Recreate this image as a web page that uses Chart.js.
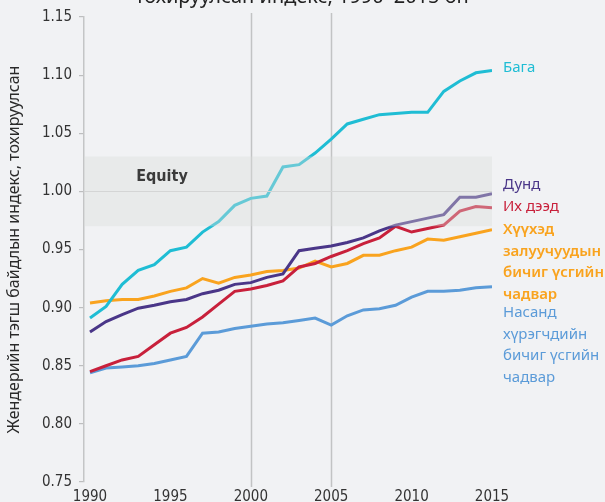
<!DOCTYPE html>
<html>
<head>
<meta charset="utf-8">
<script src="https://cdn.jsdelivr.net/npm/chart.js@4.4.1/dist/chart.umd.min.js"></script>
<style>
  html, body { margin: 0; padding: 0; background: #f1f2f4; }
  #wrap { position: relative; width: 605px; height: 502px; overflow: hidden; }
</style>
</head>
<body>
<div id="wrap"><canvas id="myChart" width="605" height="502"></canvas></div>
<script>
// values
const years = [1990, 1991, 1992, 1993, 1994, 1995, 1996, 1997, 1998, 1999, 2000, 2001, 2002,
  2003, 2004, 2005, 2006, 2007, 2008, 2009, 2010, 2011, 2012, 2013, 2014, 2015];
const baga = [0.891, 0.901, 0.920, 0.932, 0.937, 0.949, 0.952, 0.965, 0.974, 0.988, 0.994, 0.996, 1.021,
  1.023, 1.033, 1.045, 1.058, 1.062, 1.066, 1.067, 1.068, 1.068, 1.086, 1.095, 1.102, 1.104];
const dund = [0.879, 0.888, 0.894, 0.8995, 0.902, 0.905, 0.907, 0.912, 0.915, 0.920, 0.9215, 0.926, 0.929,
  0.949, 0.951, 0.953, 0.956, 0.960, 0.966, 0.971, 0.974, 0.977, 0.980, 0.995, 0.995, 0.998];
const ikhDeed = [0.845, 0.850, 0.855, 0.858, 0.868, 0.878, 0.883, 0.892, 0.903, 0.914, 0.916, 0.919, 0.923,
  0.935, 0.938, 0.944, 0.949, 0.955, 0.960, 0.970, 0.965, 0.968, 0.971, 0.983, 0.987, 0.986];
const youthLit = [0.904, 0.906, 0.907, 0.907, 0.910, 0.914, 0.917, 0.925, 0.921, 0.926, 0.928, 0.931, 0.932,
  0.934, 0.940, 0.935, 0.938, 0.945, 0.945, 0.949, 0.952, 0.959, 0.958, 0.961, 0.964, 0.967];
const adultLit = [0.844, 0.848, 0.849, 0.850, 0.852, 0.855, 0.858, 0.878, 0.879, 0.882, 0.884, 0.886, 0.887,
  0.889, 0.891, 0.885, 0.893, 0.898, 0.899, 0.902, 0.909, 0.914, 0.914, 0.915, 0.917, 0.918];

const xTicks = [1990, 1995, 2000, 2005, 2010, 2015];
const yTicks = [0.75, 0.80, 0.85, 0.90, 0.95, 1.00, 1.05, 1.10, 1.15];
const markerYears = [2000, 2005];
const equityBand = [0.97, 1.03];

const seriesNames = [
  ['Бага'],
  ['Дунд'],
  ['Их дээд'],
  ['Хүүхэд', 'залуучуудын', 'бичиг үсгийн', 'чадвар'],
  ['Насанд', 'хүрэгчдийн', 'бичиг үсгийн', 'чадвар']
];
const seriesValues = [baga, dund, ikhDeed, youthLit, adultLit];
const colors = ['#1fbdd4', '#4a3688', '#c8203b', '#f9a31e', '#5b9bd8'];
// where each label block starts (first line centre)
const labelY = [68, 185, 207, 230, 313];

const tickFont = { family: "'Liberation Sans Narrow', 'DejaVu Sans Condensed', sans-serif", size: 15 };
const textFont = "'Noto Sans', sans-serif";

function toPoints(vals) {
  return years.map((y, i) => ({ x: y, y: vals[i] }));
}

const bgPlugin = {
  id: 'bg',
  beforeDraw(chart) {
    const c = chart.ctx;
    c.save();
    c.fillStyle = '#f1f2f4';
    c.fillRect(0, 0, chart.width, chart.height);
    c.fillStyle = '#222';
    c.font = '20px ' + textFont;
    c.textAlign = 'center';
    c.textBaseline = 'alphabetic';
    c.fillText('тохируулсан индекс, 1990–2015 он', 302, 3);
    c.restore();
  }
};

const markersPlugin = {
  id: 'markers',
  beforeDatasetsDraw(chart) {
    const c = chart.ctx, xs = chart.scales.x, a = chart.chartArea;
    c.save();
    c.strokeStyle = '#c2c3c4';
    c.lineWidth = 1.5;
    markerYears.forEach(yr => {
      const px = Math.round(xs.getPixelForValue(yr)) + 0.5;
      c.beginPath();
      c.moveTo(px, a.top - 4);
      c.lineTo(px, a.bottom + 5);
      c.stroke();
    });
    c.restore();
  }
};

const bandPlugin = {
  id: 'band',
  afterDatasetsDraw(chart) {
    const c = chart.ctx, xs = chart.scales.x, ys = chart.scales.y, a = chart.chartArea;
    const top = ys.getPixelForValue(equityBand[1]);
    const bot = ys.getPixelForValue(equityBand[0]);
    const right = xs.getPixelForValue(2015);
    c.save();
    c.fillStyle = 'rgba(218,220,218,0.38)';
    c.fillRect(a.left, top, right - a.left, bot - top);
    const one = Math.round(ys.getPixelForValue(1)) + 0.5;
    c.strokeStyle = '#d4d5d5';
    c.lineWidth = 1.2;
    c.beginPath();
    c.moveTo(a.left, one);
    c.lineTo(right, one);
    c.stroke();
    c.fillStyle = '#3b3b3b';
    c.font = "bold 16px 'Liberation Sans Narrow', 'DejaVu Sans Condensed', sans-serif";
    c.textAlign = 'center';
    c.textBaseline = 'middle';
    c.fillText('Equity', 162, 177);
    c.restore();
  }
};

const labelsPlugin = {
  id: 'seriesLabels',
  afterDraw(chart) {
    const c = chart.ctx;
    c.save();
    c.textAlign = 'left';
    c.textBaseline = 'middle';
    seriesNames.forEach((lines, i) => {
      c.fillStyle = colors[i];
      c.font = (i === 3 ? '600 15px ' : '15px ') + textFont;
      lines.forEach((t, j) => c.fillText(t, 503, labelY[i] + j * 21.5));
    });
    c.restore();
  }
};

function initChart() {
  const ctx = document.getElementById('myChart').getContext('2d');
  return new Chart(ctx, {
    type: 'line',
    data: {
      datasets: seriesValues.map((vals, i) => ({
        data: toPoints(vals),
        borderColor: colors[i],
        borderWidth: 3,
        pointRadius: 0,
        tension: 0,
        fill: false
      }))
    },
    options: {
      responsive: false,
      animation: false,
      layout: { padding: { top: 17, right: 113, left: 0, bottom: 0 } },
      plugins: { legend: { display: false }, tooltip: { enabled: false } },
      scales: {
        x: {
          type: 'linear',
          min: 1989.627,
          max: 2015,
          afterBuildTicks: s => { s.ticks = xTicks.map(v => ({ value: v })); },
          afterFit: s => { s.height = 20; },
          grid: { display: false, drawTicks: false },
          border: { display: false },
          ticks: { color: '#333', font: tickFont, padding: 6, maxRotation: 0, callback: v => String(v) }
        },
        y: {
          min: 0.75,
          max: 1.15,
          afterBuildTicks: s => { s.ticks = yTicks.map(v => ({ value: v })); },
          afterFit: s => { s.width = 84; },
          grid: { drawOnChartArea: false, drawTicks: true, tickLength: 5, color: '#bdbebf', lineWidth: 1.2 },
          border: { display: true, color: '#c4c5c6', width: 1.5 },
          ticks: { color: '#333', font: tickFont, padding: 7, callback: v => v.toFixed(2) },
          title: {
            display: true,
            text: 'Жендерийн тэгш байдлын индекс, тохируулсан',
            color: '#2a2a2a',
            font: { family: textFont, size: 16 },
            padding: { top: 5, bottom: 0 }
          }
        }
      }
    },
    plugins: [bgPlugin, markersPlugin, bandPlugin, labelsPlugin]
  });
}

document.addEventListener('DOMContentLoaded', function() {
  initChart();
});
</script>
</body>
</html>
